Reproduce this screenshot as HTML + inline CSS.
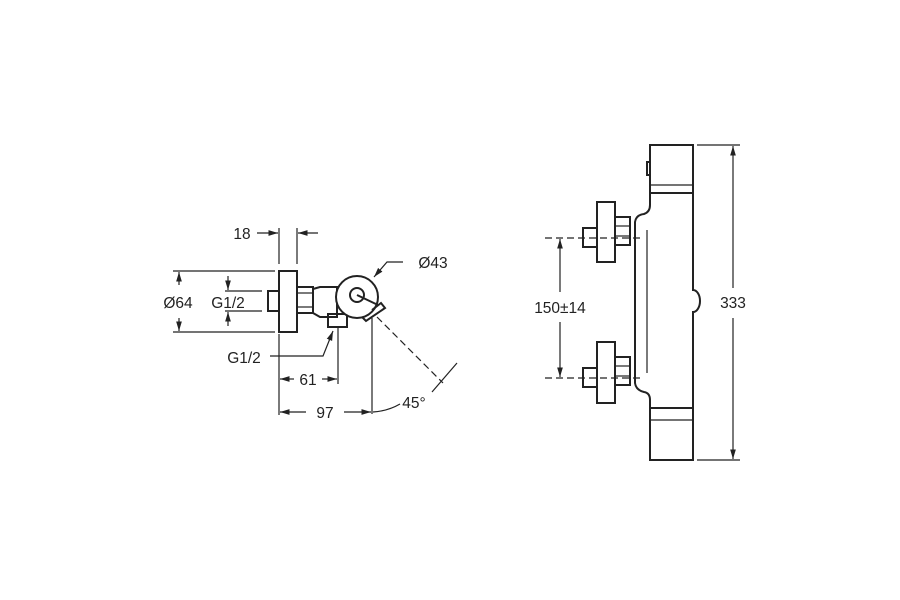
<!DOCTYPE html>
<html><head><meta charset="utf-8"><style>html,body{margin:0;padding:0;background:#fff}svg{display:block}text{font-family:"Liberation Sans",sans-serif;font-size:15.5px;fill:#222}</style></head>
<body>
<svg width="900" height="600" viewBox="0 0 900 600" xmlns="http://www.w3.org/2000/svg">
<defs>
<marker id="a" viewBox="0 0 10 10" refX="10" refY="5" markerWidth="8" markerHeight="8" orient="auto-start-reverse"><path d="M0,2 L10,5 L0,8 z" fill="#222"/></marker>
</defs>
<g stroke="#222" fill="none">
<g stroke-width="1.2">
<line x1="279" y1="228" x2="279" y2="264"/><line x1="297" y1="228" x2="297" y2="264"/>
<line x1="257" y1="233" x2="278" y2="233" marker-end="url(#a)"/>
<line x1="318" y1="233" x2="298" y2="233" marker-end="url(#a)"/>
<line x1="173" y1="271" x2="275" y2="271"/><line x1="173" y1="332" x2="275" y2="332"/>
<line x1="179" y1="285" x2="179" y2="272" marker-end="url(#a)"/>
<line x1="179" y1="318" x2="179" y2="331" marker-end="url(#a)"/>
<line x1="225" y1="291" x2="262" y2="291"/><line x1="225" y1="311" x2="262" y2="311"/>
<line x1="228" y1="276" x2="228" y2="290" marker-end="url(#a)"/>
<line x1="228" y1="326" x2="228" y2="312" marker-end="url(#a)"/>
<polyline points="270,356 323,356 333,331" marker-end="url(#a)"/>
<polyline points="403,262 387,262 374,277" marker-end="url(#a)"/>
<line x1="279" y1="334" x2="279" y2="415"/>
<line x1="338" y1="326" x2="338" y2="384"/>
<line x1="372" y1="318" x2="372" y2="414"/>
<line x1="294" y1="379" x2="280" y2="379" marker-end="url(#a)"/>
<line x1="322" y1="379" x2="337" y2="379" marker-end="url(#a)"/>
<line x1="306" y1="412" x2="280" y2="412" marker-end="url(#a)"/>
<line x1="344" y1="412" x2="371" y2="412" marker-end="url(#a)"/>
<line x1="377" y1="317" x2="443" y2="383" stroke-dasharray="7,4"/>
<line x1="457" y1="363" x2="432" y2="392"/>
<path d="M373,412 Q388,411 400,404"/>
</g>
<g stroke-width="2">
<rect x="268" y="291" width="11" height="20"/>
<rect x="279" y="271" width="18" height="61"/>
<rect x="297" y="287" width="16" height="26"/>
<line x1="297" y1="293" x2="313" y2="293" stroke-width="1.2"/><line x1="297" y1="307" x2="313" y2="307" stroke-width="1.2"/>
<path d="M313,289 L320,287 L337,287 L337,317 L320,317 L313,313"/>
<rect x="328" y="314" width="19" height="13"/>
<circle cx="357" cy="297" r="21" fill="#fff"/>
<circle cx="357" cy="295" r="7"/>
<line x1="357" y1="295" x2="378" y2="305"/>
<path d="M372,310 L381,303 L385,308 L366,321 L362,317"/>
</g>
<g stroke-width="1.2">
<line x1="545" y1="238" x2="640" y2="238" stroke-dasharray="7,4"/>
<line x1="545" y1="378" x2="640" y2="378" stroke-dasharray="7,4"/>
<line x1="560" y1="292" x2="560" y2="239" marker-end="url(#a)"/>
<line x1="560" y1="322" x2="560" y2="377" marker-end="url(#a)"/>
<line x1="697" y1="145" x2="740" y2="145"/><line x1="697" y1="460" x2="740" y2="460"/>
<line x1="733" y1="288" x2="733" y2="146" marker-end="url(#a)"/>
<line x1="733" y1="318" x2="733" y2="459" marker-end="url(#a)"/>
<line x1="647" y1="230" x2="647" y2="373"/>
</g>
<g stroke-width="2">
<path d="M650,145 L693,145 L693,290 A7,11 0 0 1 693,312 L693,460 L650,460 L650,400 Q650,393 644,392 Q636,390 635,383 L635,222 Q636,215 644,214 Q650,212 650,205 Z"/>
<line x1="650" y1="185" x2="693" y2="185" stroke-width="1.2"/><line x1="650" y1="193" x2="693" y2="193"/>
<line x1="650" y1="408" x2="693" y2="408"/><line x1="650" y1="420" x2="693" y2="420" stroke-width="1.2"/>
<rect x="647" y="162" width="3" height="13"/>
<rect x="583" y="228" width="14" height="19"/>
<rect x="597" y="202" width="18" height="60"/>
<rect x="615" y="217" width="15" height="28"/>
<line x1="615" y1="226" x2="630" y2="226" stroke-width="1.2"/><line x1="615" y1="236" x2="630" y2="236" stroke-width="1.2"/>
<rect x="583" y="368" width="14" height="19"/>
<rect x="597" y="342" width="18" height="61"/>
<rect x="615" y="357" width="15" height="28"/>
<line x1="615" y1="366" x2="630" y2="366" stroke-width="1.2"/><line x1="615" y1="376" x2="630" y2="376" stroke-width="1.2"/>
</g>
</g>
<text x="242" y="239" text-anchor="middle">18</text>
<text x="178" y="308" text-anchor="middle">Ø64</text>
<text x="228" y="308" text-anchor="middle">G1/2</text>
<text x="433" y="268" text-anchor="middle">Ø43</text>
<text x="244" y="363" text-anchor="middle">G1/2</text>
<text x="308" y="385" text-anchor="middle">61</text>
<text x="325" y="418" text-anchor="middle">97</text>
<text x="414" y="408" text-anchor="middle">45°</text>
<text x="560" y="313" text-anchor="middle">150±14</text>
<text x="733" y="308" text-anchor="middle">333</text>
</svg>
</body></html>
